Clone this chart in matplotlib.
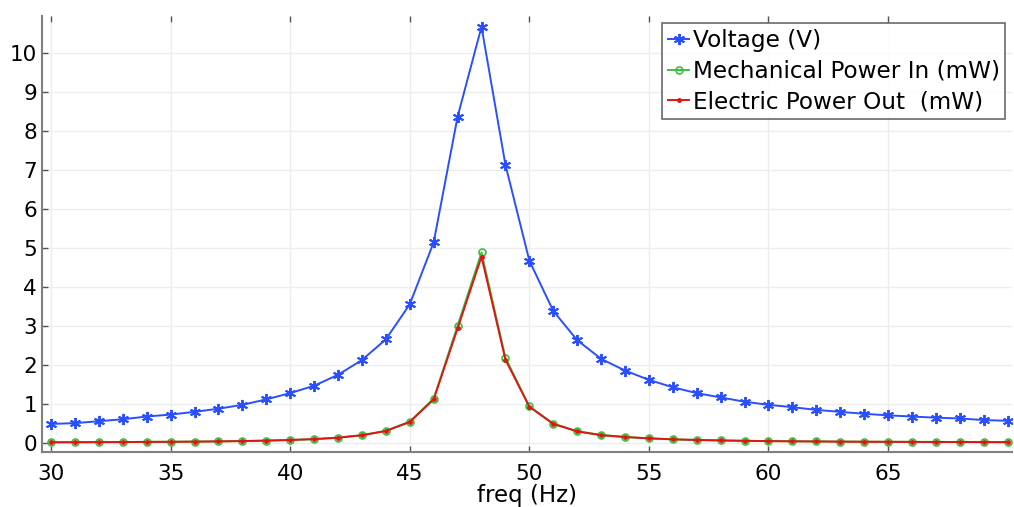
import matplotlib.pyplot as plt
import numpy as np

freq = list(range(30, 71))

voltage = [0.48, 0.50, 0.55, 0.60, 0.67, 0.72, 0.79, 0.87, 0.97, 1.11,
           1.27, 1.46, 1.74, 2.12, 2.65, 3.55, 5.14, 8.36, 10.67, 7.13,
           4.67, 3.38, 2.63, 2.15, 1.85, 1.61, 1.42, 1.27, 1.16, 1.05,
           0.97, 0.91, 0.84, 0.79, 0.74, 0.70, 0.67, 0.64, 0.62, 0.58,
           0.56]

mech_power = [0.010, 0.011, 0.013, 0.015, 0.019, 0.022, 0.026, 0.032, 0.040, 0.052,
              0.068, 0.090, 0.128, 0.19, 0.30, 0.54, 1.13, 3.00, 4.88, 2.18,
              0.93, 0.49, 0.29, 0.20, 0.145, 0.11, 0.085, 0.068, 0.057, 0.047,
              0.040, 0.035, 0.030, 0.026, 0.023, 0.021, 0.019, 0.017, 0.016, 0.014,
              0.013]

elec_power = [0.010, 0.011, 0.013, 0.015, 0.019, 0.022, 0.026, 0.032, 0.040, 0.052,
              0.068, 0.090, 0.127, 0.19, 0.30, 0.53, 1.11, 2.93, 4.77, 2.13,
              0.92, 0.48, 0.29, 0.19, 0.144, 0.11, 0.084, 0.068, 0.056, 0.046,
              0.039, 0.034, 0.030, 0.026, 0.023, 0.021, 0.019, 0.017, 0.016, 0.014,
              0.013]

plt.rcParams['font.family'] = 'DejaVu Sans'

fig = plt.figure(figsize=(10.14, 5.07), dpi=100)
ax = fig.add_axes([0.0414, 0.1085, 0.957, 0.8595])

ax.plot(freq, voltage, color='#2a4fff', lw=1.4, marker=(6, 2, 0), ms=8, mew=1.4,
        label='Voltage (V)')
ax.plot(freq, mech_power, color='#3cbf3c', lw=1.4, marker='o', ms=5, mfc='none', mew=1.2,
        label='Mechanical Power In (mW)')
ax.plot(freq, elec_power, color='#dd1515', lw=1.4, marker='.', ms=5,
        label='Electric Power Out  (mW)')

ax.set_xlim(29.62, 70.2)
ax.set_ylim(-0.24, 10.94)
ax.set_xticks([30, 35, 40, 45, 50, 55, 60, 65])
ax.set_yticks(range(0, 11))
ax.grid(True, color='#ededed', lw=1)
ax.set_axisbelow(True)

for side in ['top', 'right']:
    ax.spines[side].set_visible(False)
for side in ['left', 'bottom']:
    ax.spines[side].set_color('#808080')
    ax.spines[side].set_linewidth(1.5)

ax.tick_params(axis='both', direction='in', length=4, width=1, color='#555555',
               labelsize=15.5, top=True)
ax.tick_params(axis='x', pad=9)
ax.set_xlabel('freq (Hz)', fontsize=16.5, labelpad=0)

leg = ax.legend(loc='upper right', fontsize=16.7, frameon=True, fancybox=False,
                shadow=False, handlelength=0.9, handletextpad=0.15, borderpad=0.25,
                labelspacing=0.33, borderaxespad=0.3)
leg.get_frame().set_edgecolor('#444444')
leg.get_frame().set_linewidth(1.2)

fig.savefig('out.png', dpi=100)
